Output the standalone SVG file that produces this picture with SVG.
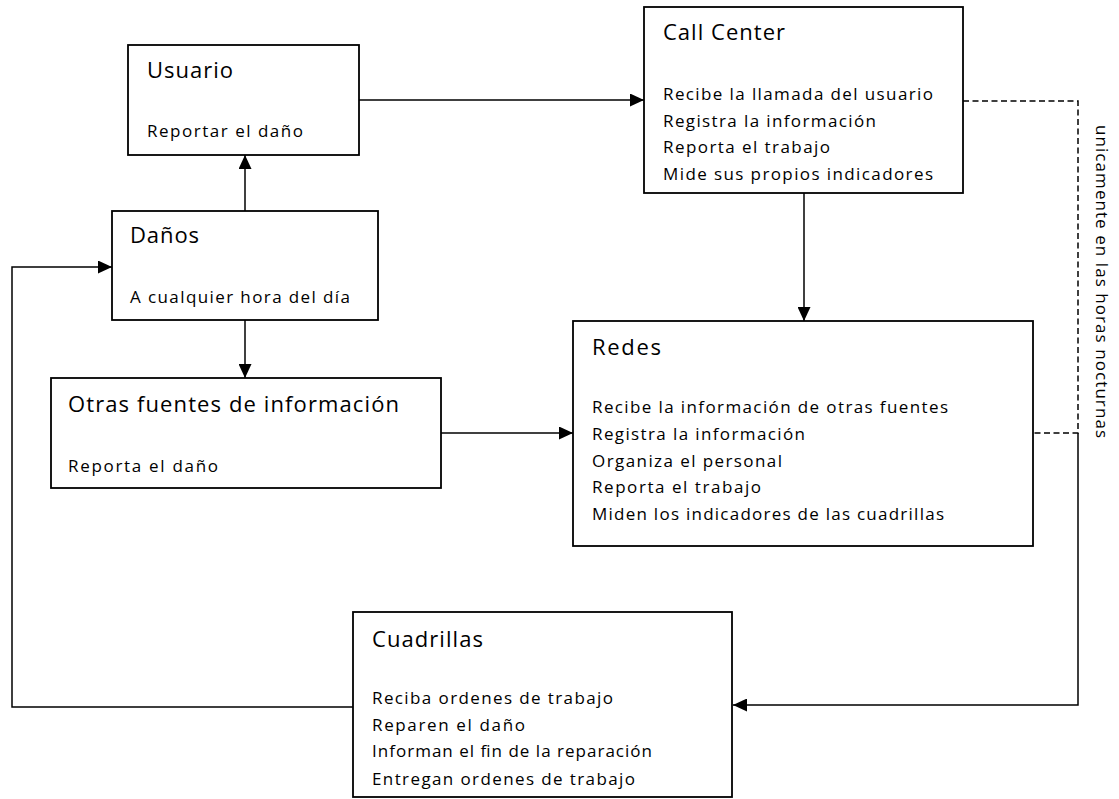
<svg xmlns="http://www.w3.org/2000/svg" width="1119" height="799" viewBox="0 0 1119 799">
  <style>
    .box { fill: #ffffff; stroke: #000000; stroke-width: 1.8; }
    .title { font-family: "Open Sans", "Liberation Sans", sans-serif; font-size: 22px; fill: #000000; }
    .body { font-family: "Open Sans", "Liberation Sans", sans-serif; font-size: 17px; fill: #000000; }
    .link { fill: none; stroke: #000000; stroke-width: 1.5; }
    .dash { fill: none; stroke: #000000; stroke-width: 1.5; stroke-dasharray: 6 3.5; }
  </style>
  <defs>
    <marker id="arrow" markerUnits="userSpaceOnUse" markerWidth="14" markerHeight="13" refX="14" refY="6.5" orient="auto">
      <path d="M0,0 L14,6.5 L0,13 Z" fill="#000000"/>
    </marker>
  </defs>

  <rect width="1119" height="799" fill="#ffffff"/>

  <!-- connectors -->
  <g id="connectors">
    <!-- Usuario -> Call Center -->
    <line class="link" x1="359" y1="100" x2="644" y2="100" marker-end="url(#arrow)"/>
    <!-- Daños -> Usuario -->
    <line class="link" x1="245" y1="211" x2="245" y2="155" marker-end="url(#arrow)"/>
    <!-- Daños -> Otras fuentes -->
    <line class="link" x1="245" y1="320" x2="245" y2="378" marker-end="url(#arrow)"/>
    <!-- Otras fuentes -> Redes -->
    <line class="link" x1="441" y1="433" x2="573" y2="433" marker-end="url(#arrow)"/>
    <!-- Call Center -> Redes -->
    <line class="link" x1="804" y1="193" x2="804" y2="321" marker-end="url(#arrow)"/>
    <!-- Cuadrillas -> Daños (loop on the left) -->
    <polyline class="link" points="353,707 12,707 12,267 112,267" marker-end="url(#arrow)"/>
    <!-- night-time route from Call Center -->
    <polyline class="dash" points="963,101 1078,101 1078,433 1033,433"/>
    <!-- Redes -> Cuadrillas -->
    <polyline class="link" points="1078,433 1078,705 733,705" marker-end="url(#arrow)"/>
    <text class="body" transform="translate(1096,125) rotate(90)" x="0" y="0" textLength="313" lengthAdjust="spacing">unicamente en las horas nocturnas</text>
  </g>

  <!-- Usuario -->
  <g id="usuario">
    <rect class="box" x="128" y="45" width="231" height="110"/>
    <text class="title" x="147" y="78" textLength="86" lengthAdjust="spacing">Usuario</text>
    <text class="body" x="147" y="137" textLength="156" lengthAdjust="spacing">Reportar el daño</text>
  </g>

  <!-- Call Center -->
  <g id="call-center">
    <rect class="box" x="644" y="7" width="319" height="186"/>
    <text class="title" x="663" y="40" textLength="122" lengthAdjust="spacing">Call Center</text>
    <text class="body" x="663" y="100" textLength="270" lengthAdjust="spacing">Recibe la llamada del usuario</text>
    <text class="body" x="663" y="127" textLength="213" lengthAdjust="spacing">Registra la información</text>
    <text class="body" x="663" y="153" textLength="167" lengthAdjust="spacing">Reporta el trabajo</text>
    <text class="body" x="663" y="180" textLength="270" lengthAdjust="spacing">Mide sus propios indicadores</text>
  </g>

  <!-- Daños -->
  <g id="danos">
    <rect class="box" x="112" y="211" width="266" height="109"/>
    <text class="title" x="130" y="243" textLength="69" lengthAdjust="spacing">Daños</text>
    <text class="body" x="130" y="303" textLength="220" lengthAdjust="spacing">A cualquier hora del día</text>
  </g>

  <!-- Otras fuentes de información -->
  <g id="otras-fuentes">
    <rect class="box" x="51" y="378" width="390" height="110"/>
    <text class="title" x="68" y="412" textLength="331" lengthAdjust="spacing">Otras fuentes de información</text>
    <text class="body" x="68" y="472" textLength="150" lengthAdjust="spacing">Reporta el daño</text>
  </g>

  <!-- Redes -->
  <g id="redes">
    <rect class="box" x="573" y="321" width="460" height="225"/>
    <text class="title" x="592" y="355" textLength="69" lengthAdjust="spacing">Redes</text>
    <text class="body" x="592" y="413" textLength="356" lengthAdjust="spacing">Recibe la información de otras fuentes</text>
    <text class="body" x="592" y="440" textLength="213" lengthAdjust="spacing">Registra la información</text>
    <text class="body" x="592" y="467" textLength="190" lengthAdjust="spacing">Organiza el personal</text>
    <text class="body" x="592" y="493" textLength="169" lengthAdjust="spacing">Reporta el trabajo</text>
    <text class="body" x="592" y="520" textLength="352" lengthAdjust="spacing">Miden los indicadores de las cuadrillas</text>
  </g>

  <!-- Cuadrillas -->
  <g id="cuadrillas">
    <rect class="box" x="353" y="612" width="379" height="185"/>
    <text class="title" x="372" y="647" textLength="111" lengthAdjust="spacing">Cuadrillas</text>
    <text class="body" x="372" y="704" textLength="241" lengthAdjust="spacing">Reciba ordenes de trabajo</text>
    <text class="body" x="372" y="731" textLength="153" lengthAdjust="spacing">Reparen el daño</text>
    <text class="body" x="372" y="757" textLength="280" lengthAdjust="spacing">Informan el fin de la reparación</text>
    <text class="body" x="372" y="785" textLength="263" lengthAdjust="spacing">Entregan ordenes de trabajo</text>
  </g>
</svg>
